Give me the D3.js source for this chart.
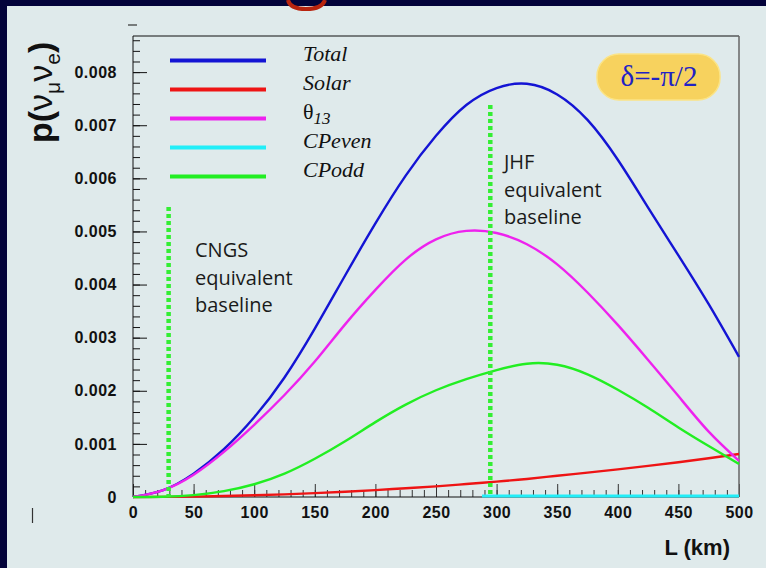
<!DOCTYPE html>
<html>
<head>
<meta charset="utf-8">
<script src="https://cdn.jsdelivr.net/npm/d3@7/dist/d3.min.js"></script>
<style>
  body { margin: 0; background: #03033a; }
  svg { display: block; }
</style>
</head>
<body>
<div id="chart"></div>
<script>
// baseline L (km), one reading every 25 km
const baseline = [0, 25, 50, 75, 100, 125, 150, 175, 200, 225, 250,
  275, 300, 325, 350, 375, 400, 425, 450, 475, 500];

// probabilities (in units of 1e-3, scaled below)
const total = [0, 0.13, 0.44, 0.90, 1.50, 2.25, 3.17, 4.17, 5.15, 6.05, 6.80,
  7.38, 7.70, 7.78, 7.58, 7.10, 6.35, 5.45, 4.55, 3.63, 2.64];
const solar = [0, 0.002, 0.008, 0.018, 0.032, 0.05, 0.073, 0.10, 0.13, 0.165, 0.20,
  0.245, 0.29, 0.34, 0.40, 0.458, 0.52, 0.585, 0.655, 0.73, 0.81];
const theta13 = [0, 0.13, 0.42, 0.85, 1.36, 1.92, 2.55, 3.25, 3.90, 4.47, 4.85,
  5.01, 4.97, 4.76, 4.38, 3.85, 3.24, 2.58, 1.90, 1.23, 0.68];
const cpOdd = [0, 0.005, 0.035, 0.11, 0.24, 0.44, 0.72, 1.05, 1.41, 1.74, 2.01,
  2.22, 2.39, 2.51, 2.49, 2.31, 2.02, 1.68, 1.31, 0.96, 0.62];
// CPeven only shows up past ~288 km, lying on the axis
const cpEvenL = [288, 300, 350, 400, 450, 500];
const cpEven = [0.02, 0.02, 0.02, 0.02, 0.02, 0.02];

// equivalent-baseline markers
const markerL = [29.4, 294.8];
const markerTop = [5.46, 7.38];
const markerText = [["CNGS", "equivalent", "baseline"], ["JHF", "equivalent", "baseline"]];

const xTicks = [0, 50, 100, 150, 200, 250, 300, 350, 400, 450, 500];
const yTicks = [0, 1, 2, 3, 4, 5, 6, 7, 8];

const legendNames = ["Total", "Solar", "θ13", "CPeven", "CPodd"];
const colors = ["#1414d4", "#ee1414", "#ee22ee", "#22eef8", "#22ee22"];

const unit = 0.001;
const width = 766;
const height = 568;
const margin = { top: 36, right: 27, bottom: 71, left: 133 };

const svg = d3.select("#chart")
  .append("svg")
  .attr("width", width)
  .attr("height", height);

// light panel over the dark slide
svg.append("rect")
  .attr("x", 7).attr("y", 6)
  .attr("width", width - 7).attr("height", height - 6)
  .attr("fill", "#dfeaeb");

// bit of a logo peeking in at the top
svg.append("path")
  .attr("d", "M288,0 Q290,9 306,9 Q322,9 325,0")
  .attr("fill", "none")
  .attr("stroke", "#b8240e")
  .attr("stroke-width", 4);

const x = d3.scaleLinear()
  .domain([0, 500])
  .range([margin.left, width - margin.right]);

const y = d3.scaleLinear()
  .domain([0, 0.00868])
  .range([height - margin.bottom, margin.top]);

// minor ticks first, then majors with labels
svg.append("g")
  .attr("transform", `translate(0,${height - margin.bottom})`)
  .call(d3.axisBottom(x).tickValues(d3.range(0, 501, 10)).tickSize(-7).tickFormat(""))
  .call(g => g.select(".domain").remove())
  .selectAll("line").attr("stroke", "#333");

svg.append("g")
  .attr("transform", `translate(0,${height - margin.bottom})`)
  .call(d3.axisBottom(x).tickValues(xTicks).tickSize(-13).tickPadding(10))
  .call(g => g.select(".domain").remove())
  .call(g => g.selectAll("line").attr("stroke", "#333"))
  .selectAll("text")
  .attr("font-family", "Liberation Sans, Arial, sans-serif")
  .attr("font-weight", "bold")
  .attr("font-size", "16px")
  .attr("letter-spacing", "0.5px")
  .attr("fill", "#111");

svg.append("g")
  .attr("transform", `translate(${margin.left},0)`)
  .call(d3.axisLeft(y).tickValues(d3.range(0, 0.00861, 0.0002)).tickSize(-7).tickFormat(""))
  .call(g => g.select(".domain").remove())
  .selectAll("line").attr("stroke", "#111");

svg.append("g")
  .attr("transform", `translate(${margin.left},0)`)
  .call(d3.axisLeft(y).tickValues(yTicks.map(v => v * unit)).tickSize(-14).tickPadding(16)
    .tickFormat(d => d === 0 ? "0" : d3.format(".3f")(d)))
  .call(g => g.select(".domain").remove())
  .call(g => g.selectAll("line").attr("stroke", "#111"))
  .selectAll("text")
  .attr("font-family", "Liberation Sans, Arial, sans-serif")
  .attr("font-weight", "bold")
  .attr("font-size", "16px")
  .attr("letter-spacing", "0.5px")
  .attr("fill", "#111");

// frame
svg.append("path")
  .attr("d", `M${x(500)},${y(0)}H${x(0)}V${y.range()[1]}H${x(500)}`)
  .attr("fill", "none").attr("stroke", "#111").attr("stroke-width", 1);
svg.append("path")
  .attr("d", `M${x(500)},${y.range()[1]}V${y(0)}`)
  .attr("fill", "none").attr("stroke", "#666").attr("stroke-width", 1.5);

// stray marks left over on the slide
svg.append("line").attr("x1", 128).attr("x2", 137).attr("y1", 25).attr("y2", 25)
  .attr("stroke", "#333").attr("stroke-width", 1.2);
svg.append("line").attr("x1", 32.5).attr("x2", 32.5).attr("y1", 508).attr("y2", 523)
  .attr("stroke", "#333").attr("stroke-width", 1.2);

// curves
const line = d3.line()
  .x(d => x(d[0]))
  .y(d => y(d[1] * unit))
  .curve(d3.curveNatural);

const series = [total, solar, theta13, null, cpOdd];
series.forEach((vals, i) => {
  const pts = vals
    ? baseline.map((l, j) => [l, vals[j]])
    : cpEvenL.map((l, j) => [l, cpEven[j]]);
  svg.append("path")
    .datum(pts)
    .attr("d", line)
    .attr("fill", "none")
    .attr("stroke", colors[i])
    .attr("stroke-width", i === 3 ? 3 : 2.4);
});

// dotted baseline markers
markerL.forEach((l, i) => {
  svg.append("line")
    .attr("x1", x(l)).attr("x2", x(l))
    .attr("y1", y(markerTop[i] * unit)).attr("y2", y(0))
    .attr("stroke", "#33ee33")
    .attr("stroke-width", 4.5)
    .attr("stroke-dasharray", "4,3");
});

const noteX = [195, 504];
const noteY = [257, 169];
markerText.forEach((lines, i) => {
  svg.append("text")
    .attr("font-family", "Open Sans, sans-serif")
    .attr("font-size", "20px")
    .attr("fill", "#1a1a1a")
    .selectAll("tspan")
    .data(lines)
    .join("tspan")
    .attr("x", noteX[i])
    .attr("y", (d, j) => noteY[i] + j * 27.5)
    .text(d => d);
});

// legend
const legend = svg.append("g");
legendNames.forEach((name, i) => {
  const ly = 61 + i * 29;
  legend.append("line")
    .attr("x1", 170).attr("x2", 266)
    .attr("y1", ly - 0.5).attr("y2", ly - 0.5)
    .attr("stroke", colors[i])
    .attr("stroke-width", 4);
  const t = legend.append("text")
    .attr("x", 303).attr("y", ly)
    .attr("font-family", "Liberation Serif, Times New Roman, serif")
    .attr("font-size", "22px")
    .attr("fill", "#111");
  if (name === "θ13") {
    t.append("tspan").text("θ");
    t.append("tspan").attr("font-style", "italic").attr("font-size", "17px")
      .attr("dy", 5).text("13");
  } else {
    t.attr("font-style", "italic").text(name);
  }
});

// delta box
svg.append("rect")
  .attr("x", 597).attr("y", 54)
  .attr("width", 123).attr("height", 46)
  .attr("rx", 22)
  .attr("fill", "#f7d25e")
  .attr("stroke", "#fbe486")
  .attr("stroke-width", 1.5);
svg.append("text")
  .attr("x", 659).attr("y", 86)
  .attr("text-anchor", "middle")
  .attr("font-family", "Liberation Serif, Times New Roman, serif")
  .attr("font-size", "29px")
  .attr("fill", "#2222c4")
  .text("δ=-π/2");

// axis titles
svg.append("text")
  .attr("x", 730).attr("y", 555)
  .attr("text-anchor", "end")
  .attr("font-family", "Liberation Sans, Arial, sans-serif")
  .attr("font-weight", "bold")
  .attr("font-size", "22px")
  .attr("fill", "#111")
  .text("L (km)");

const yTitle = svg.append("text")
  .attr("transform", "translate(52,143) rotate(-90)")
  .attr("font-family", "Liberation Sans, Arial, sans-serif")
  .attr("font-weight", "bold")
  .attr("font-size", "34px")
  .attr("fill", "#111");
yTitle.append("tspan").text("p(");
yTitle.append("tspan").attr("font-weight", "normal").text("ν");
yTitle.append("tspan").attr("font-weight", "normal").attr("font-size", "21px").attr("dy", 8).text("μ");
yTitle.append("tspan").attr("font-weight", "normal").attr("dy", -8).text("ν");
yTitle.append("tspan").attr("font-weight", "normal").attr("font-size", "21px").attr("dy", 8).text("e");
yTitle.append("tspan").attr("dy", -8).text(")");
</script>
</body>
</html>
